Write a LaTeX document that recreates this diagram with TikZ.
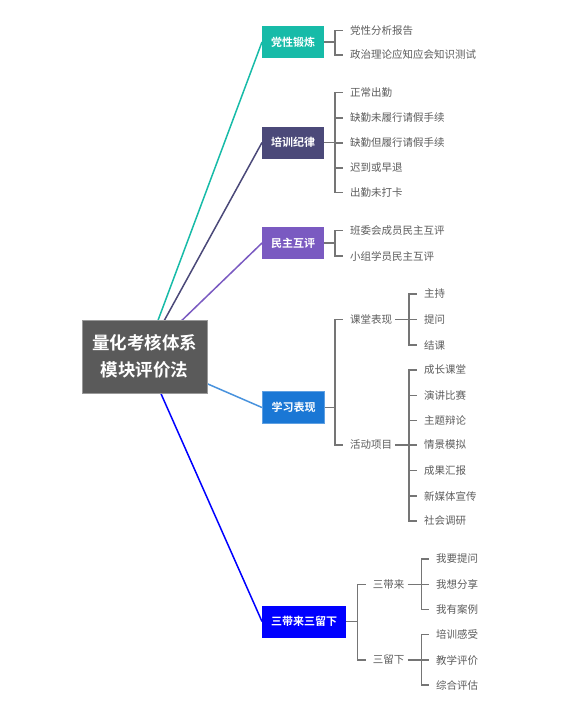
\documentclass[tikz,border=0pt]{standalone}
\usepackage{fontspec}
\setmainfont{Noto Sans CJK SC}[BoldFont={Noto Sans CJK SC Bold}]
\usetikzlibrary{backgrounds}
\definecolor{rootgray}{HTML}{5A5A5A}
\definecolor{teal1}{HTML}{17BBA8}
\definecolor{navy1}{HTML}{4B4979}
\definecolor{violet1}{HTML}{7A5AC1}
\definecolor{sky1}{HTML}{1A77D5}
\definecolor{blue1}{HTML}{0000FF}
\definecolor{leafgray}{HTML}{5C5C5C}
\definecolor{linegray}{HTML}{757575}

\begin{document}
\begin{tikzpicture}[x=1pt,y=-1pt,
   rootbox/.style={fill=rootgray,draw=gray!80,line width=1pt,text=white,font=\fontsize{17.5}{27}\selectfont\bfseries,
                   align=center,minimum width=125pt,minimum height=73pt,inner sep=0pt},
   branchbox/.style={fill=#1,text=white,font=\fontsize{11}{13}\selectfont\bfseries,anchor=west,
                   inner xsep=9pt,inner ysep=0pt,minimum height=32pt},
   leaf/.style={text=leafgray,font=\fontsize{10.5}{12}\selectfont,anchor=west,inner sep=3pt},
   bra/.style={linegray,line width=1.3pt},
   stub/.style={linegray,line width=1.3pt,shorten >=4pt}]
   \useasboundingbox (0,0) rectangle (585,706);
   % root and main branches
   \node[rootbox] (root) at (144.5,356.5) {量化考核体系\\模块评价法};
   \node[branchbox=teal1] (dxdl) at (262,42) {党性锻炼};
   \node[branchbox=navy1] (pxjl) at (262,142.5) {培训纪律};
   \node[branchbox=violet1] (mzhp) at (262,243) {民主互评};
   \node[branchbox=sky1,draw=sky1!70!white,line width=1pt] (xxbx) at (262,407.5) {学习表现};
   \node[branchbox=blue1] (sdlx) at (262,621.5) {三带来三留下};
   \begin{pgfonlayer}{background}
    \draw[teal1,line width=1.5pt] (root.center) -- (dxdl.west);
    \draw[navy1,line width=1.5pt] (root.center) -- (pxjl.west);
    \draw[violet1,line width=1.5pt] (root.center) -- (mzhp.west);
    \draw[sky1!80!white,line width=1.5pt] (root.center) -- (xxbx.west);
    \draw[blue1,line width=1.5pt] (root.center) -- (sdlx.west);
   \end{pgfonlayer}
   % 党性锻炼
   \node[leaf] (a1) at (347,30.7) {党性分析报告};
   \node[leaf] (a2) at (347,55) {政治理论应知应会知识测试};
   \draw[bra] (dxdl.east) -- (335,42) coordinate (ba);
   \draw[stub] (ba) |- (a1.west);
   \draw[stub] (ba) |- (a2.west);
   % 培训纪律
   \node[leaf] (b1) at (347,92.7) {正常出勤};
   \node[leaf] (b2) at (347,118) {缺勤未履行请假手续};
   \node[leaf] (b3) at (347,143) {缺勤但履行请假手续};
   \node[leaf] (b4) at (347,168) {迟到或早退};
   \node[leaf] (b5) at (347,192.7) {出勤未打卡};
   \draw[bra] (pxjl.east) -- (335,142.5) coordinate (bb);
   \draw[stub] (bb) |- (b1.west);
   \draw[stub] (bb) |- (b2.west);
   \draw[stub] (bb) |- (b3.west);
   \draw[stub] (bb) |- (b4.west);
   \draw[stub] (bb) |- (b5.west);
   % 民主互评
   \node[leaf] (c1) at (347,230.7) {班委会成员民主互评};
   \node[leaf] (c2) at (347,256) {小组学员民主互评};
   \draw[bra] (mzhp.east) -- (335,243) coordinate (bc);
   \draw[stub] (bc) |- (c1.west);
   \draw[stub] (bc) |- (c2.west);
   % 学习表现
   \node[leaf] (d1) at (347,319.3) {课堂表现};
   \node[leaf] (d2) at (347,445) {活动项目};
   \draw[bra] (xxbx.east) -- (335,407.5) coordinate (bd);
   \draw[stub] (bd) |- (d1.west);
   \draw[stub] (bd) |- (d2.west);
   \node[leaf] (d11) at (421,294) {主持};
   \node[leaf] (d12) at (421,319.3) {提问};
   \node[leaf] (d13) at (421,345) {结课};
   \draw[bra] (d1.east) -- (409,319.3) coordinate (bd1);
   \draw[stub] (bd1) |- (d11.west);
   \draw[stub] (bd1) |- (d12.west);
   \draw[stub] (bd1) |- (d13.west);
   \node[leaf] (d21) at (421,370) {成长课堂};
   \node[leaf] (d22) at (421,395.7) {演讲比赛};
   \node[leaf] (d23) at (421,420.5) {主题辩论};
   \node[leaf] (d24) at (421,445) {情景模拟};
   \node[leaf] (d25) at (421,470.7) {成果汇报};
   \node[leaf] (d26) at (421,496) {新媒体宣传};
   \node[leaf] (d27) at (421,521) {社会调研};
   \draw[bra] (d2.east) -- (409,445) coordinate (bd2);
   \draw[stub] (bd2) |- (d21.west);
   \draw[stub] (bd2) |- (d22.west);
   \draw[stub] (bd2) |- (d23.west);
   \draw[stub] (bd2) |- (d24.west);
   \draw[stub] (bd2) |- (d25.west);
   \draw[stub] (bd2) |- (d26.west);
   \draw[stub] (bd2) |- (d27.west);
   % 三带来三留下
   \node[leaf] (e1) at (369.7,584.3) {三带来};
   \node[leaf] (e2) at (369.7,660) {三留下};
   \draw[bra] (sdlx.east) -- (357.7,621.5) coordinate (be);
   \draw[stub] (be) |- (e1.west);
   \draw[stub] (be) |- (e2.west);
   \node[leaf] (e11) at (433,559) {我要提问};
   \node[leaf] (e12) at (433,584.3) {我想分享};
   \node[leaf] (e13) at (433,609.3) {我有案例};
   \draw[bra] (e1.east) -- (421.7,584.3) coordinate (be1);
   \draw[stub] (be1) |- (e11.west);
   \draw[stub] (be1) |- (e12.west);
   \draw[stub] (be1) |- (e13.west);
   \node[leaf] (e21) at (433,634.3) {培训感受};
   \node[leaf] (e22) at (433,660) {教学评价};
   \node[leaf] (e23) at (433,685) {综合评估};
   \draw[bra] (e2.east) -- (421.7,660) coordinate (be2);
   \draw[stub] (be2) |- (e21.west);
   \draw[stub] (be2) |- (e22.west);
   \draw[stub] (be2) |- (e23.west);
  \end{tikzpicture}
\end{document}
